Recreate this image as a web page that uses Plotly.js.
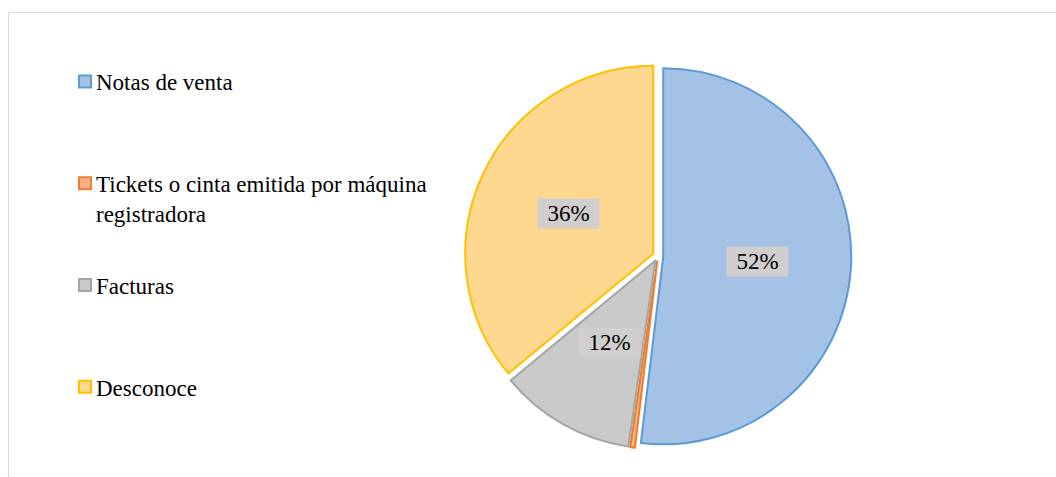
<!DOCTYPE html>
<html>
<head>
<meta charset="utf-8">
<script src="https://cdn.plot.ly/plotly-3.0.1.min.js"></script>
<style>
  html, body { margin: 0; padding: 0; background: #ffffff; }
  #chart { width: 1056px; height: 477px; }
</style>
</head>
<body>
<div id="chart"></div>
<script>
// ---- data ----
const categories = ['Notas de venta', 'Tickets o cinta emitida por máquina<br>registradora', 'Facturas', 'Desconoce'];
const shares = [51.9, 0.4, 11.7, 36.0];   // percent of answers
const fillColors = ['#a4c2e6', '#f4b183', '#c9c9c9', '#fed88e'];
const lineColors = ['#5b9bd5', '#ed7d31', '#a5a5a5', '#ffc000'];

// ---- layout parameters ----
const W = 1056, H = 477;
const pull = 0.028;
const domX = [0.4401, 0.8061];
const domY = [0.0581, 0.8685];
const serifFont = 'Liberation Serif';

const total = shares.reduce((a, b) => a + b, 0);
const pctText = shares.map(v => Math.round(v / total * 100) + '%');

const pie = {
  type: 'pie',
  labels: categories,
  values: shares,
  sort: false,
  direction: 'clockwise',
  rotation: 0,
  pull: shares.map(() => pull),
  marker: { colors: fillColors, line: { color: lineColors, width: 2 } },
  textinfo: 'none',
  hoverinfo: 'label+percent',
  showlegend: false,
  domain: { x: domX, y: domY }
};

// legend entries (one per category, drawn by Plotly's legend)
const legendTraces = categories.map((c, i) => ({
  type: 'scatter',
  mode: 'markers',
  x: [null], y: [null],
  name: c.includes('<br>') ? c : c + '<br>&nbsp;',
  legendgroup: 'g' + i,
  marker: { symbol: 'square', size: 12, color: fillColors[i], line: { color: lineColors[i], width: 2 } },
  hoverinfo: 'skip'
}));

// data-label boxes positioned from the slice angles
const cxp = (domX[0] + domX[1]) / 2;
const cyp = (domY[0] + domY[1]) / 2;
const rpx = Math.min(W * (domX[1] - domX[0]), H * (domY[1] - domY[0])) / 2 / (1 + pull);
const annotations = [];
let cum = 0;
shares.forEach((v, i) => {
  const a0 = cum / total * 2 * Math.PI;
  cum += v;
  const a1 = cum / total * 2 * Math.PI;
  const mid = (a0 + a1) / 2;
  if (v / total * 100 < 1) return;
  const d = (pull + 0.5) * rpx;
  annotations.push({
    xref: 'paper', yref: 'paper',
    x: cxp + d * Math.sin(mid) / W,
    y: cyp + d * Math.cos(mid) / H,
    xanchor: 'center', yanchor: 'middle',
    text: pctText[i],
    showarrow: false,
    font: { family: serifFont, size: 23, color: '#000000' },
    bgcolor: '#d0cece',
    width: 61, height: 29, borderpad: 0
  });
});

const layout = {
  width: W, height: H,
  margin: { l: 0, r: 0, t: 0, b: 0 },
  paper_bgcolor: '#ffffff',
  plot_bgcolor: '#ffffff',
  font: { family: serifFont, color: '#000000' },
  xaxis: { visible: false },
  yaxis: { visible: false },
  showlegend: true,
  legend: {
    x: 56 / W, xanchor: 'left',
    y: 1 - 60 / H, yanchor: 'top',
    font: { family: serifFont, size: 23, color: '#000000' },
    valign: 'top',
    traceorder: 'grouped',
    tracegroupgap: 39,
    bgcolor: 'rgba(0,0,0,0)'
  },
  shapes: [{
    type: 'rect', xref: 'paper', yref: 'paper', layer: 'below',
    x0: 8.5 / W, x1: 1.05, y0: 1 - 12.5 / H, y1: -0.05,
    line: { color: '#d9d9d9', width: 1 }
  }],
  annotations: annotations
};

Plotly.newPlot('chart', [pie].concat(legendTraces), layout, { displayModeBar: false, staticPlot: true })
  .then(gd => {
    // nudge the legend symbols closer to their text, as in the reference
    gd.querySelectorAll('.legend .legendpoints').forEach(el => {
      el.setAttribute('transform', 'translate(9,0)');
    });
  });
</script>
</body>
</html>
